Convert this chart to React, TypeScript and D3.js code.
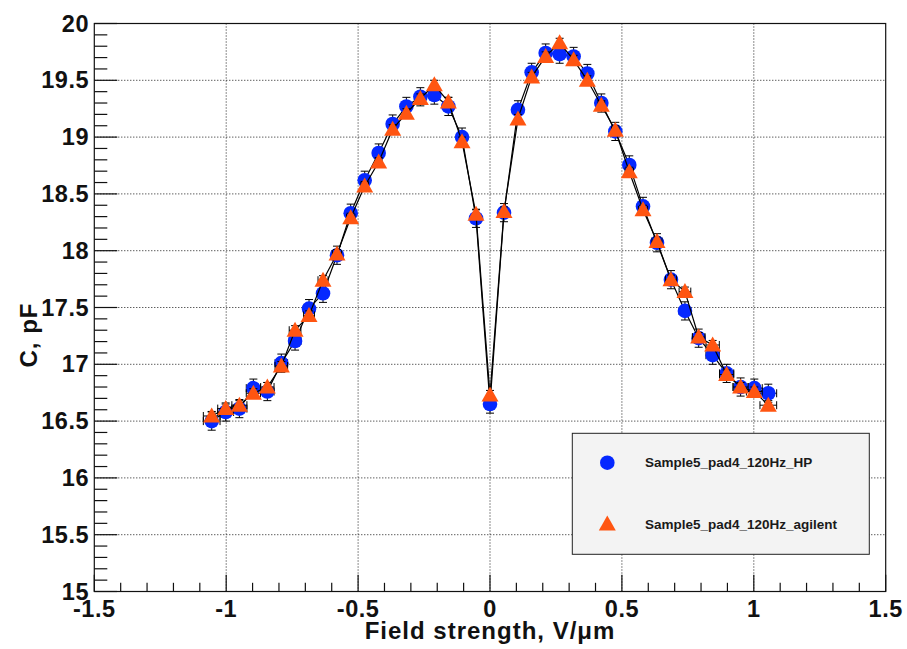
import React from "react";
import * as d3 from "d3";

const xValues = [
  -1.055, -1.002, -0.95, -0.897, -0.844, -0.791, -0.739, -0.686, -0.633, -0.58,
  -0.528, -0.475, -0.422, -0.369, -0.317, -0.264, -0.211, -0.158, -0.106, -0.053,
  0,
  0.053, 0.106, 0.158, 0.211, 0.264, 0.317, 0.369, 0.422, 0.475, 0.528,
  0.58, 0.633, 0.686, 0.739, 0.791, 0.844, 0.897, 0.95, 1.002, 1.055,
];

const hpValues = [
  16.5, 16.58, 16.61, 16.79, 16.76, 17.01, 17.205, 17.49, 17.625, 17.96,
  18.33, 18.62, 18.86, 19.115, 19.27, 19.355, 19.37, 19.27, 19.0, 18.285,
  16.65,
  18.335, 19.24, 19.57, 19.74, 19.73, 19.71, 19.56, 19.3, 19.05, 18.755,
  18.39, 18.07, 17.745, 17.47, 17.23, 17.08, 16.92, 16.8, 16.79, 16.745,
];

const agilentValues = [
  16.545, 16.61, 16.64, 16.745, 16.8, 16.985, 17.3, 17.43, 17.74, 17.97,
  18.29, 18.57, 18.78, 19.07, 19.21, 19.34, 19.46, 19.31, 18.96, 18.32,
  16.73,
  18.345, 19.16, 19.53, 19.71, 19.83, 19.68, 19.5, 19.28, 19.06, 18.695,
  18.36, 18.08, 17.745, 17.64, 17.24, 17.17, 16.91, 16.8, 16.76, 16.64,
];

const hpYErr = 0.08;
const agilentYErr = 0.04;
const xRelErr = 0.03;

const xTickLabels = ["-1.5", "-1", "-0.5", "0", "0.5", "1", "1.5"];
const yTickLabels = ["15", "15.5", "16", "16.5", "17", "17.5", "18", "18.5", "19", "19.5", "20"];

const seriesNames = ["Sample5_pad4_120Hz_HP", "Sample5_pad4_120Hz_agilent"];
const xTitle = "Field strength, V/\u03bcm";
const yTitle = "C, pF";

const W = 907;
const H = 649;
const L = 94.3, R = 885.7, T = 23.5, B = 591.5;

const BLUE = "#0528ff";
const ORANGE = "#ff5511";
const FONT = "'Liberation Sans', Arial, Helvetica, sans-serif";

const x = d3.scaleLinear().domain([-1.5, 1.5]).range([L, R]);
const y = d3.scaleLinear().domain([15, 20]).range([B, T]);

const triPath = "M0,-8.5L8.5,6.5L-8.5,6.5Z";

function Series({ values, yErr, kind }: { values: number[]; yErr: number; kind: "circle" | "tri" }) {
  const pts = xValues.map((xv, i) => [xv, values[i]] as [number, number]);
  const line = d3.line<[number, number]>().x((d) => x(d[0])).y((d) => y(d[1]));
  const color = kind === "circle" ? BLUE : ORANGE;
  return (
    <g>
      <path d={line(pts) || ""} fill="none" stroke="#000" strokeWidth={1.2} />
      {pts.map(([xv, yv], i) => {
        const cx = x(xv);
        const cy = y(yv);
        const y0 = y(yv - yErr);
        const y1 = y(yv + yErr);
        const ex = Math.abs(xv) * xRelErr;
        const x0 = x(xv - ex);
        const x1 = x(xv + ex);
        return (
          <g key={i} stroke="#000" strokeWidth={1}>
            <line x1={cx} x2={cx} y1={y0} y2={y1} />
            <line x1={cx - 4} x2={cx + 4} y1={y0} y2={y0} />
            <line x1={cx - 4} x2={cx + 4} y1={y1} y2={y1} />
            <line x1={x0} x2={x1} y1={cy} y2={cy} />
            <line x1={x0} x2={x0} y1={cy - 4} y2={cy + 4} />
            <line x1={x1} x2={x1} y1={cy - 4} y2={cy + 4} />
          </g>
        );
      })}
      {pts.map(([xv, yv], i) =>
        kind === "circle" ? (
          <circle key={"m" + i} cx={x(xv)} cy={y(yv)} r={7.3} fill={color} />
        ) : (
          <path key={"m" + i} d={triPath} transform={`translate(${x(xv)},${y(yv)})`} fill={color} />
        )
      )}
    </g>
  );
}

export default function App() {
  const xMajor = xTickLabels.map(Number);
  const yMajor = yTickLabels.map(Number);
  const xMinor = x.ticks(30).filter((t) => !xMajor.some((m) => Math.abs(m - t) < 1e-6));
  const yMinor = y.ticks(50).filter((t) => !yMajor.some((m) => Math.abs(m - t) < 1e-6));

  const legX = 572.3, legY = 433.3, legW = 297, legH = 121;
  const legRow1 = 462.7, legRow2 = 524;

  return (
    <svg
      width={W}
      height={H}
      style={{ position: "absolute", left: 0, top: 0, background: "#fff" }}
      fontFamily={FONT}
    >
      <rect x={0} y={0} width={W} height={H} fill="#fff" />
      {/* grid */}
      <g stroke="#1a1a1a" strokeWidth={1} strokeDasharray="1,2">
        {xMajor.slice(1, -1).map((t) => (
          <line key={"gx" + t} x1={x(t)} x2={x(t)} y1={T} y2={B} />
        ))}
        {yMajor.slice(1, -1).map((t) => (
          <line key={"gy" + t} x1={L} x2={R} y1={y(t)} y2={y(t)} />
        ))}
      </g>

      {/* series */}
      <Series values={hpValues} yErr={hpYErr} kind="circle" />
      <Series values={agilentValues} yErr={agilentYErr} kind="tri" />

      {/* legend */}
      <rect x={legX} y={legY} width={legW} height={legH} fill="#f3f3f3" stroke="#222" strokeWidth={1} />
      <circle cx={607.3} cy={legRow1} r={7.3} fill={BLUE} />
      <path d={triPath} transform={`translate(607.3,${legRow2})`} fill={ORANGE} />
      <text x={645} y={legRow1} dominantBaseline="central" fontSize={13.5} fontWeight="bold" fill="#1a1a1a">
        {seriesNames[0]}
      </text>
      <text x={645} y={legRow2} dominantBaseline="central" fontSize={13.5} fontWeight="bold" fill="#1a1a1a">
        {seriesNames[1]}
      </text>

      {/* frame */}
      <rect x={L} y={T} width={R - L} height={B - T} fill="none" stroke="#111" strokeWidth={1.2} />

      {/* ticks */}
      <g stroke="#111" strokeWidth={1.2}>
        {xMajor.map((t) => (
          <line key={"xt" + t} x1={x(t)} x2={x(t)} y1={B} y2={B - 16.7} />
        ))}
        {xMinor.map((t) => (
          <line key={"xm" + t} x1={x(t)} x2={x(t)} y1={B} y2={B - 8.7} />
        ))}
        {yMajor.map((t) => (
          <line key={"yt" + t} x1={L} x2={L + 23} y1={y(t)} y2={y(t)} />
        ))}
        {yMinor.map((t) => (
          <line key={"ym" + t} x1={L} x2={L + 13} y1={y(t)} y2={y(t)} />
        ))}
      </g>

      {/* tick labels */}
      <g fontSize={23.5} fontWeight="bold" fill="#111" letterSpacing={0.5}>
        {xTickLabels.map((lab) => (
          <text key={"xl" + lab} x={x(Number(lab))} y={617} textAnchor="middle">
            {lab}
          </text>
        ))}
        {yTickLabels.map((lab) => (
          <text key={"yl" + lab} x={89} y={y(Number(lab))} textAnchor="end" dominantBaseline="central">
            {lab}
          </text>
        ))}
      </g>

      {/* axis titles */}
      <text
        x={(L + R) / 2}
        y={639}
        textAnchor="middle"
        fontSize={24}
        fontWeight="bold"
        fill="#111"
        letterSpacing={1}
      >
        {xTitle}
      </text>
      <text
        transform={`translate(37,335) rotate(-90)`}
        textAnchor="middle"
        fontSize={24}
        fontWeight="bold"
        fill="#111"
        letterSpacing={1}
      >
        {yTitle}
      </text>
    </svg>
  );
}
